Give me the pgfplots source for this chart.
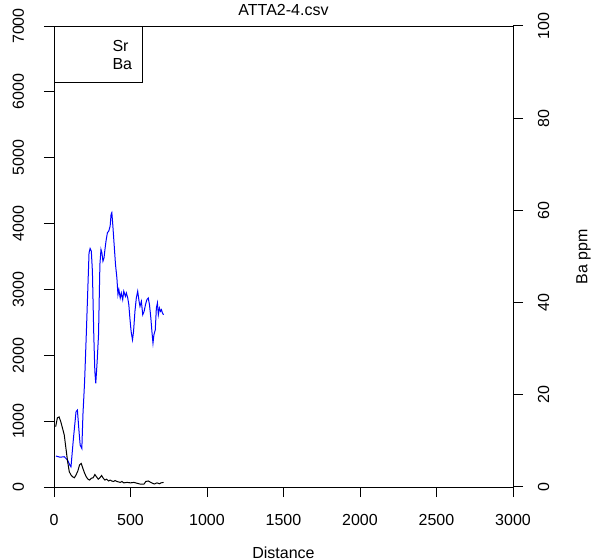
\documentclass[border=0pt]{standalone}
\usepackage{fontspec}
\setmainfont{Liberation Sans}
\usepackage{pgfplots}
\pgfplotsset{compat=1.18}
\definecolor{srblue}{RGB}{0,0,255}
\begin{document}
\begin{tikzpicture}[font=\fontsize{16bp}{19bp}\selectfont]
\useasboundingbox (0,0) rectangle (605bp,560bp);
\begin{axis}[
  at={(54bp,73bp)}, anchor=south west,
  width=459bp, height=461bp, scale only axis,
  xmin=0, xmax=3000, ymin=0, ymax=7000,
  axis line style={line width=1bp, black},
  xtick={0,500,...,3000}, ytick={0,1000,...,7000},
  xtick pos=left, ytick pos=left,
  tick align=outside, major tick length=10bp,
  every tick/.style={line width=1bp, black},
  /pgf/number format/assume math mode=true,
  /pgf/number format/1000 sep={},
  xticklabel style={anchor=base, yshift=-28bp, inner sep=0bp},
  yticklabel style={xshift=-20bp, rotate=90, anchor=base, inner sep=0bp},
  title={ATTA2-4.csv},
  title style={at={(axis description cs:0.5,1)}, anchor=base, yshift=4.5bp, inner sep=0bp},
  xlabel={Distance},
  xlabel style={at={(axis description cs:0.5,0)}, anchor=base, yshift=-71bp, inner sep=0bp},
  legend cell align=left,
  legend style={at={(axis description cs:0,1)}, anchor=north west,
    draw=black, line width=1bp, inner xsep=10bp, inner ysep=13bp,
    row sep=6.5bp, column sep=0bp,
    nodes={inner sep=0bp, text height=11.5bp, text depth=0bp}},
  legend image code/.code={\path (0bp,0bp) (47bp,0bp);},
]
\addplot[color=srblue, line width=1bp] coordinates {
(13,470) (40,452) (67,460) (89,407) (104,330) (111,305) (127,737) (144,1143)
(153,1168) (162,890) (171,635) (182,584) (189,1092) (200,1600) (211,2311)
(222,3073) (229,3556) (236,3622) (244,3581) (251,3276) (260,2311) (267,1753)
(273,1575) (282,1905) (291,2311) (300,3378) (307,3607) (313,3556) (320,3429)
(327,3480) (333,3607) (340,3734) (349,3861) (358,3886) (367,3962) (373,4140)
(378,4166) (384,3988) (393,3683) (402,3378) (411,3175) (418,2921) (424,2997)
(433,2870) (440,2946) (449,2845) (456,2972) (467,2895) (473,2946) (482,2870)
(489,2769) (496,2565) (504,2362) (513,2235) (520,2362) (529,2667) (538,2870)
(547,2972) (556,2819) (562,2743) (571,2819) (580,2616) (589,2667) (598,2769)
(607,2845) (616,2870) (624,2769) (633,2565) (640,2362) (647,2184) (653,2311)
(662,2387) (669,2717) (676,2794) (682,2616) (689,2717) (696,2667) (702,2692)
(709,2641) (716,2616)
};
\addlegendentry{Sr}
\addlegendimage{black, line width=1bp}
\addlegendentry{Ba}
\draw[draw=srblue, line width=1bp] (axis description cs:0.0283,0.961) -- (axis description cs:0.0937,0.961);
\draw[draw=black, line width=1bp] (axis description cs:0.0283,0.922) -- (axis description cs:0.0937,0.922);
\end{axis}
\begin{axis}[
  at={(54bp,73bp)}, anchor=south west,
  width=459bp, height=461bp, scale only axis,
  xmin=0, xmax=3000, ymin=0, ymax=100,
  axis y line*=right, axis x line=none,
  axis line style={line width=1bp, black},
  ytick={0,20,...,100},
  tick align=outside, major tick length=10bp,
  every tick/.style={line width=1bp, black},
  /pgf/number format/assume math mode=true,
  yticklabel style={xshift=26bp, rotate=90, anchor=base, inner sep=0bp},
  ylabel={Ba ppm},
  ylabel style={at={(axis description cs:1.162,0.5)}, anchor=base, inner sep=0bp},
]
\addplot[black, line width=1bp] coordinates {
(11,13.1) (22,15.0) (33,15.2) (44,14.2) (56,12.7) (67,11.3) (78,8.4) (89,5.5)
(100,3.3) (111,2.6) (122,2.2) (133,2.0) (144,2.6) (156,3.5) (167,4.8) (178,5.1)
(189,4.0) (200,3.0) (211,2.2) (222,1.7) (233,1.5) (244,1.9) (256,2.0) (267,2.7)
(278,2.2) (289,1.7) (300,2.0) (311,2.5) (322,1.9) (333,1.5) (344,1.7) (356,1.3)
(367,1.5) (378,1.3) (389,1.2) (400,1.4) (411,1.2) (433,1.0) (444,1.2) (456,0.9)
(478,1.0) (500,0.9) (522,1.0) (544,0.8) (567,0.6) (589,0.65) (600,1.2) (616,1.3)
(633,1.0) (644,0.8) (656,0.65) (673,0.9) (689,0.7) (700,0.9) (716,1.0)
};
\end{axis}
\end{tikzpicture}
\end{document}
